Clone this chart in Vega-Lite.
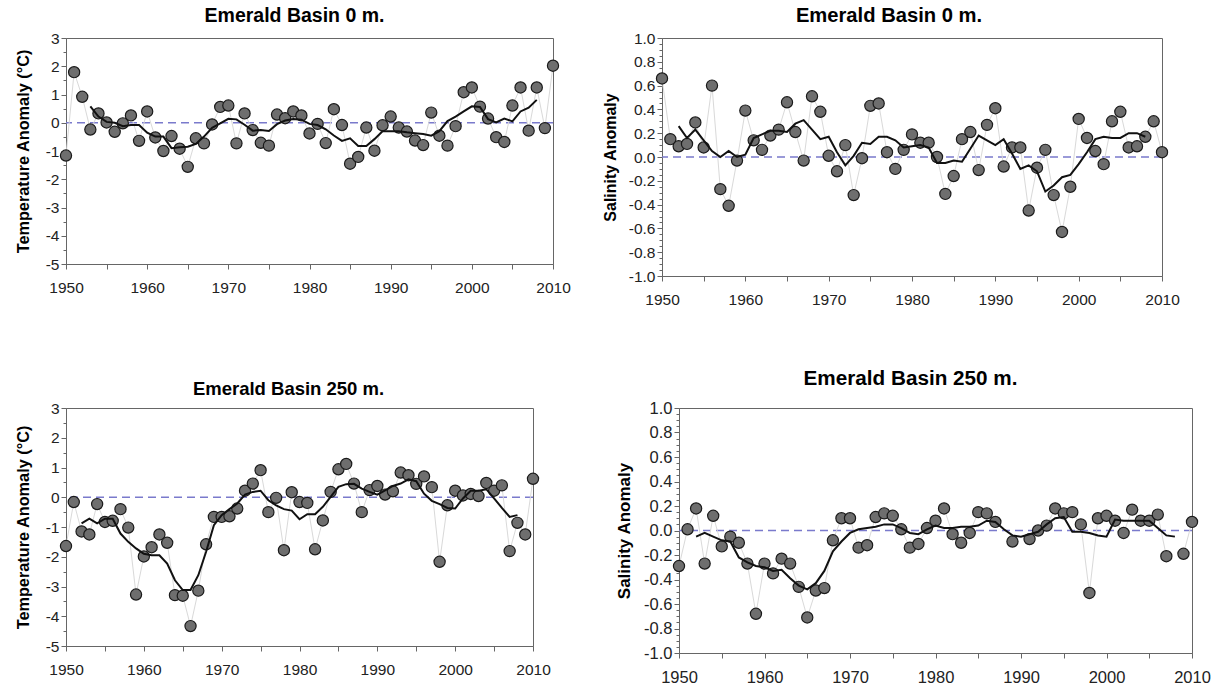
{
  "$schema": "https://vega.github.io/schema/vega-lite/v6.json",
  "padding": {"left": 14, "top": 5, "right": 0, "bottom": 0},
  "background": "white",
  "config": {
    "font": "Liberation Sans",
    "view": {"stroke": "#666", "strokeWidth": 1},
    "axis": {"grid": false, "domainColor": "#666", "tickColor": "#666", "labelColor": "#222", "labelFont": "Liberation Sans", "titleFont": "Liberation Sans", "titleColor": "#000", "titleFontWeight": "bold", "labelFlush": false, "labelOverlap": false},
    "title": {"font": "Liberation Sans", "fontWeight": "bold", "color": "#000", "anchor": "middle"}
  },
  "datasets": {
    "t0": [
      {"y":1950,"v":-1.16,"m":null},{"y":1951,"v":1.79,"m":null},{"y":1952,"v":0.92,"m":null},{"y":1953,"v":-0.24,"m":0.58},{"y":1954,"v":0.33,"m":0.22},
      {"y":1955,"v":0.01,"m":0.03},{"y":1956,"v":-0.32,"m":0.0},{"y":1957,"v":-0.02,"m":-0.12},{"y":1958,"v":0.26,"m":-0.08},{"y":1959,"v":-0.64,"m":-0.08},
      {"y":1960,"v":0.40,"m":-0.35},{"y":1961,"v":-0.52,"m":-0.49},{"y":1962,"v":-1.0,"m":-0.49},{"y":1963,"v":-0.47,"m":-0.9},{"y":1964,"v":-0.92,"m":-0.87},
      {"y":1965,"v":-1.56,"m":-0.85},{"y":1966,"v":-0.55,"m":-0.75},{"y":1967,"v":-0.73,"m":-0.49},{"y":1968,"v":-0.06,"m":-0.18},{"y":1969,"v":0.56,"m":-0.02},
      {"y":1970,"v":0.61,"m":0.14},{"y":1971,"v":-0.73,"m":0.12},{"y":1972,"v":0.33,"m":-0.07},{"y":1973,"v":-0.26,"m":-0.28},{"y":1974,"v":-0.71,"m":-0.26},
      {"y":1975,"v":-0.81,"m":-0.29},{"y":1976,"v":0.29,"m":-0.05},{"y":1977,"v":0.16,"m":0.08},{"y":1978,"v":0.40,"m":0.13},{"y":1979,"v":0.26,"m":0.11},
      {"y":1980,"v":-0.38,"m":-0.04},{"y":1981,"v":-0.04,"m":-0.08},{"y":1982,"v":-0.72,"m":-0.23},{"y":1983,"v":0.48,"m":-0.45},{"y":1984,"v":-0.08,"m":-0.64},
      {"y":1985,"v":-1.45,"m":-0.55},{"y":1986,"v":-1.21,"m":-0.82},{"y":1987,"v":-0.17,"m":-0.82},{"y":1988,"v":-0.99,"m":-0.58},{"y":1989,"v":-0.09,"m":-0.3},
      {"y":1990,"v":0.22,"m":-0.3},{"y":1991,"v":-0.17,"m":-0.3},{"y":1992,"v":-0.31,"m":-0.34},{"y":1993,"v":-0.63,"m":-0.37},{"y":1994,"v":-0.79,"m":-0.4},
      {"y":1995,"v":0.36,"m":-0.46},{"y":1996,"v":-0.46,"m":-0.3},{"y":1997,"v":-0.81,"m":0.06},{"y":1998,"v":-0.12,"m":0.22},{"y":1999,"v":1.08,"m":0.4},
      {"y":2000,"v":1.25,"m":0.58},{"y":2001,"v":0.57,"m":0.56},{"y":2002,"v":0.15,"m":0.13},{"y":2003,"v":-0.51,"m":0.01},{"y":2004,"v":-0.68,"m":0.15},
      {"y":2005,"v":0.61,"m":0.05},{"y":2006,"v":1.25,"m":0.4},{"y":2007,"v":-0.28,"m":0.53},{"y":2008,"v":1.25,"m":0.81},{"y":2009,"v":-0.19,"m":null},
      {"y":2010,"v":2.02,"m":null}
    ],
    "s0": [
      {"y":1950,"v":0.66,"m":null},{"y":1951,"v":0.15,"m":null},{"y":1952,"v":0.09,"m":0.26},{"y":1953,"v":0.11,"m":0.16},{"y":1954,"v":0.29,"m":0.23},
      {"y":1955,"v":0.08,"m":0.14},{"y":1956,"v":0.60,"m":0.05},{"y":1957,"v":-0.27,"m":0.0},{"y":1958,"v":-0.41,"m":0.05},{"y":1959,"v":-0.03,"m":0.0},
      {"y":1960,"v":0.39,"m":0.02},{"y":1961,"v":0.14,"m":0.16},{"y":1962,"v":0.06,"m":0.19},{"y":1963,"v":0.18,"m":0.22},{"y":1964,"v":0.23,"m":0.22},
      {"y":1965,"v":0.46,"m":0.21},{"y":1966,"v":0.21,"m":0.28},{"y":1967,"v":-0.03,"m":0.31},{"y":1968,"v":0.51,"m":0.23},{"y":1969,"v":0.38,"m":0.15},
      {"y":1970,"v":0.01,"m":0.17},{"y":1971,"v":-0.12,"m":0.04},{"y":1972,"v":0.10,"m":-0.07},{"y":1973,"v":-0.32,"m":0.01},{"y":1974,"v":-0.01,"m":0.12},
      {"y":1975,"v":0.43,"m":0.11},{"y":1976,"v":0.45,"m":0.17},{"y":1977,"v":0.04,"m":0.17},{"y":1978,"v":-0.10,"m":0.14},{"y":1979,"v":0.06,"m":0.08},
      {"y":1980,"v":0.19,"m":0.09},{"y":1981,"v":0.12,"m":0.10},{"y":1982,"v":0.12,"m":0.08},{"y":1983,"v":0.0,"m":-0.05},{"y":1984,"v":-0.31,"m":-0.05},
      {"y":1985,"v":-0.16,"m":-0.03},{"y":1986,"v":0.15,"m":-0.04},{"y":1987,"v":0.21,"m":0.07},{"y":1988,"v":-0.11,"m":0.18},{"y":1989,"v":0.27,"m":0.14},
      {"y":1990,"v":0.41,"m":0.10},{"y":1991,"v":-0.08,"m":0.15},{"y":1992,"v":0.08,"m":0.03},{"y":1993,"v":0.08,"m":-0.10},{"y":1994,"v":-0.45,"m":-0.07},
      {"y":1995,"v":-0.09,"m":-0.12},{"y":1996,"v":0.06,"m":-0.29},{"y":1997,"v":-0.32,"m":-0.24},{"y":1998,"v":-0.63,"m":-0.17},{"y":1999,"v":-0.25,"m":-0.15},
      {"y":2000,"v":0.32,"m":-0.06},{"y":2001,"v":0.16,"m":0.04},{"y":2002,"v":0.05,"m":0.15},{"y":2003,"v":-0.06,"m":0.17},{"y":2004,"v":0.30,"m":0.16},
      {"y":2005,"v":0.38,"m":0.16},{"y":2006,"v":0.08,"m":0.20},{"y":2007,"v":0.09,"m":0.20},{"y":2008,"v":0.17,"m":0.17},{"y":2009,"v":0.30,"m":null},
      {"y":2010,"v":0.04,"m":null}
    ],
    "t250": [
      {"y":1950,"v":-1.64,"m":null},{"y":1951,"v":-0.16,"m":null},{"y":1952,"v":-1.15,"m":-0.88},{"y":1953,"v":-1.25,"m":-0.72},{"y":1954,"v":-0.23,"m":-0.88},
      {"y":1955,"v":-0.83,"m":-0.72},{"y":1956,"v":-0.79,"m":-0.72},{"y":1957,"v":-0.40,"m":-1.22},{"y":1958,"v":-1.02,"m":-1.5},{"y":1959,"v":-3.27,"m":-1.72},
      {"y":1960,"v":-1.99,"m":-1.9},{"y":1961,"v":-1.68,"m":-1.95},{"y":1962,"v":-1.25,"m":-1.95},{"y":1963,"v":-1.53,"m":-2.23},{"y":1964,"v":-3.29,"m":-2.79},
      {"y":1965,"v":-3.31,"m":-3.12},{"y":1966,"v":-4.33,"m":-3.12},{"y":1967,"v":-3.14,"m":-2.62},{"y":1968,"v":-1.58,"m":-1.83},{"y":1969,"v":-0.66,"m":-0.94},
      {"y":1970,"v":-0.66,"m":-0.6},{"y":1971,"v":-0.64,"m":-0.4},{"y":1972,"v":-0.38,"m":-0.21},{"y":1973,"v":0.22,"m":0.09},{"y":1974,"v":0.46,"m":0.18},
      {"y":1975,"v":0.91,"m":0.22},{"y":1976,"v":-0.50,"m":-0.1},{"y":1977,"v":-0.02,"m":-0.27},{"y":1978,"v":-1.78,"m":-0.40},{"y":1979,"v":0.17,"m":-0.45},
      {"y":1980,"v":-0.16,"m":-0.74},{"y":1981,"v":-0.19,"m":-0.57},{"y":1982,"v":-1.75,"m":-0.57},{"y":1983,"v":-0.78,"m":-0.32},{"y":1984,"v":0.18,"m":0.01},
      {"y":1985,"v":0.94,"m":0.35},{"y":1986,"v":1.12,"m":0.44},{"y":1987,"v":0.46,"m":0.45},{"y":1988,"v":-0.50,"m":0.29},{"y":1989,"v":0.24,"m":0.18},
      {"y":1990,"v":0.38,"m":0.09},{"y":1991,"v":0.09,"m":0.23},{"y":1992,"v":0.20,"m":0.38},{"y":1993,"v":0.83,"m":0.46},{"y":1994,"v":0.74,"m":0.6},
      {"y":1995,"v":0.45,"m":0.54},{"y":1996,"v":0.70,"m":0.12},{"y":1997,"v":0.34,"m":-0.12},{"y":1998,"v":-2.17,"m":-0.23},{"y":1999,"v":-0.27,"m":-0.36},
      {"y":2000,"v":0.22,"m":-0.38},{"y":2001,"v":0.06,"m":-0.04},{"y":2002,"v":0.11,"m":0.22},{"y":2003,"v":0.04,"m":0.22},{"y":2004,"v":0.48,"m":0.27},
      {"y":2005,"v":0.22,"m":-0.04},{"y":2006,"v":0.40,"m":-0.36},{"y":2007,"v":-1.81,"m":-0.66},{"y":2008,"v":-0.86,"m":-0.6},{"y":2009,"v":-1.25,"m":null},
      {"y":2010,"v":0.62,"m":null}
    ],
    "s250": [
      {"y":1950,"v":-0.29,"m":null},{"y":1951,"v":0.01,"m":null},{"y":1952,"v":0.18,"m":-0.05},{"y":1953,"v":-0.27,"m":-0.02},{"y":1954,"v":0.12,"m":-0.05},
      {"y":1955,"v":-0.13,"m":-0.08},{"y":1956,"v":-0.05,"m":-0.09},{"y":1957,"v":-0.10,"m":-0.22},{"y":1958,"v":-0.27,"m":-0.26},{"y":1959,"v":-0.68,"m":-0.29},
      {"y":1960,"v":-0.27,"m":-0.30},{"y":1961,"v":-0.35,"m":-0.33},{"y":1962,"v":-0.23,"m":-0.32},{"y":1963,"v":-0.27,"m":-0.39},{"y":1964,"v":-0.46,"m":-0.45},
      {"y":1965,"v":-0.71,"m":-0.48},{"y":1966,"v":-0.49,"m":-0.43},{"y":1967,"v":-0.47,"m":-0.33},{"y":1968,"v":-0.08,"m":-0.17},{"y":1969,"v":0.10,"m":-0.09},
      {"y":1970,"v":0.10,"m":-0.02},{"y":1971,"v":-0.14,"m":0.01},{"y":1972,"v":-0.12,"m":0.02},{"y":1973,"v":0.11,"m":0.03},{"y":1974,"v":0.14,"m":0.05},
      {"y":1975,"v":0.12,"m":0.05},{"y":1976,"v":0.01,"m":0.02},{"y":1977,"v":-0.14,"m":-0.02},{"y":1978,"v":-0.11,"m":-0.03},{"y":1979,"v":0.02,"m":0.01},
      {"y":1980,"v":0.08,"m":0.04},{"y":1981,"v":0.18,"m":0.02},{"y":1982,"v":-0.03,"m":0.02},{"y":1983,"v":-0.10,"m":0.03},{"y":1984,"v":-0.02,"m":0.03},
      {"y":1985,"v":0.15,"m":0.04},{"y":1986,"v":0.14,"m":0.08},{"y":1987,"v":0.07,"m":0.07},{"y":1988,"v":null,"m":0.01},{"y":1989,"v":-0.09,"m":-0.04},
      {"y":1990,"v":null,"m":-0.05},{"y":1991,"v":-0.07,"m":-0.03},{"y":1992,"v":0.0,"m":-0.01},{"y":1993,"v":0.04,"m":0.05},{"y":1994,"v":0.18,"m":0.10},
      {"y":1995,"v":0.14,"m":0.11},{"y":1996,"v":0.15,"m":-0.01},{"y":1997,"v":0.05,"m":-0.01},{"y":1998,"v":-0.51,"m":-0.02},{"y":1999,"v":0.10,"m":-0.04},
      {"y":2000,"v":0.12,"m":-0.05},{"y":2001,"v":0.08,"m":0.09},{"y":2002,"v":-0.02,"m":0.08},{"y":2003,"v":0.17,"m":0.08},{"y":2004,"v":0.08,"m":0.08},
      {"y":2005,"v":0.08,"m":0.08},{"y":2006,"v":0.13,"m":0.02},{"y":2007,"v":-0.21,"m":-0.04},{"y":2008,"v":null,"m":-0.05},{"y":2009,"v":-0.19,"m":null},
      {"y":2010,"v":0.07,"m":null}
    ]
  },
  "vconcat": [
    {
      "hconcat": [
        {
          "width": 487, "height": 226,
          "title": {"text": "Emerald Basin 0 m.", "fontSize": 19.5, "dx": -15, "offset": 5},
          "data": {"name": "t0"},
          "layer": [
            {"data": {"values": [{}]}, "mark": {"type": "rule", "color": "#7a7acc", "strokeDash": [8, 5], "strokeWidth": 1.5},
             "encoding": {"y": {"datum": 0, "type": "quantitative", "scale": {"domain": [-5, 3], "nice": false},
                                "axis": {"values": [-5,-4.5,-4,-3.5,-3,-2.5,-2,-1.5,-1,-0.5,0,0.5,1,1.5,2,2.5,3], "labelExpr": "datum.value % 1 === 0 ? '' + datum.value : ''", "tickSize": {"condition": {"test": "datum.value % 1 === 0", "value": 5}, "value": 3}, "labelPadding": 2, "labelFontSize": 15.5, "title": "Temperature Anomaly (°C)", "titleFontSize": 16.3, "titlePadding": 14}}}},
            {"mark": {"type": "line", "color": "#d9d9d9", "strokeWidth": 1},
             "encoding": {"x": {"field": "y", "type": "quantitative", "scale": {"domain": [1950, 2010], "nice": false, "zero": false},
                                "axis": {"values": [1950,1955,1960,1965,1970,1975,1980,1985,1990,1995,2000,2005,2010], "labelExpr": "datum.value % 10 === 0 ? '' + datum.value : ''", "title": null, "tickSize": 5, "labelPadding": 11, "labelFontSize": 15.5}},
                          "y": {"field": "v", "type": "quantitative", "scale": {"domain": [-5, 3], "nice": false},
                                "axis": {"values": [-5,-4.5,-4,-3.5,-3,-2.5,-2,-1.5,-1,-0.5,0,0.5,1,1.5,2,2.5,3], "labelExpr": "datum.value % 1 === 0 ? '' + datum.value : ''", "tickSize": {"condition": {"test": "datum.value % 1 === 0", "value": 5}, "value": 3}, "labelPadding": 2, "labelFontSize": 15.5, "title": "Temperature Anomaly (°C)", "titleFontSize": 16.3, "titlePadding": 14}}}},
            {"mark": {"type": "point", "filled": true, "fill": "#6e6e6e", "stroke": "#1a1a1a", "strokeWidth": 1.2, "size": 125, "opacity": 1},
             "encoding": {"x": {"field": "y", "type": "quantitative", "scale": {"domain": [1950, 2010], "nice": false, "zero": false},
                                "axis": {"values": [1950,1955,1960,1965,1970,1975,1980,1985,1990,1995,2000,2005,2010], "labelExpr": "datum.value % 10 === 0 ? '' + datum.value : ''", "title": null, "tickSize": 5, "labelPadding": 11, "labelFontSize": 15.5}},
                          "y": {"field": "v", "type": "quantitative", "scale": {"domain": [-5, 3], "nice": false},
                                "axis": {"values": [-5,-4.5,-4,-3.5,-3,-2.5,-2,-1.5,-1,-0.5,0,0.5,1,1.5,2,2.5,3], "labelExpr": "datum.value % 1 === 0 ? '' + datum.value : ''", "tickSize": {"condition": {"test": "datum.value % 1 === 0", "value": 5}, "value": 3}, "labelPadding": 2, "labelFontSize": 15.5, "title": "Temperature Anomaly (°C)", "titleFontSize": 16.3, "titlePadding": 14}}}},
            {"mark": {"type": "line", "color": "#111", "strokeWidth": 2},
             "encoding": {"x": {"field": "y", "type": "quantitative", "scale": {"domain": [1950, 2010], "nice": false, "zero": false},
                                "axis": {"values": [1950,1955,1960,1965,1970,1975,1980,1985,1990,1995,2000,2005,2010], "labelExpr": "datum.value % 10 === 0 ? '' + datum.value : ''", "title": null, "tickSize": 5, "labelPadding": 11, "labelFontSize": 15.5}},
                          "y": {"field": "m", "type": "quantitative", "scale": {"domain": [-5, 3], "nice": false},
                                "axis": {"values": [-5,-4.5,-4,-3.5,-3,-2.5,-2,-1.5,-1,-0.5,0,0.5,1,1.5,2,2.5,3], "labelExpr": "datum.value % 1 === 0 ? '' + datum.value : ''", "tickSize": {"condition": {"test": "datum.value % 1 === 0", "value": 5}, "value": 3}, "labelPadding": 2, "labelFontSize": 15.5, "title": "Temperature Anomaly (°C)", "titleFontSize": 16.3, "titlePadding": 14}}}}
          ]
        },
        {
          "width": 500, "height": 238,
          "title": {"text": "Emerald Basin 0 m.", "fontSize": 20.2, "dx": -23, "offset": 5},
          "data": {"name": "s0"},
          "layer": [
            {"data": {"values": [{}]}, "mark": {"type": "rule", "color": "#7a7acc", "strokeDash": [8, 5], "strokeWidth": 1.5},
             "encoding": {"y": {"datum": 0, "type": "quantitative", "scale": {"domain": [-1, 1], "nice": false},
                                "axis": {"values": [-1,-0.95,-0.9,-0.85,-0.8,-0.75,-0.7,-0.65,-0.6,-0.55,-0.5,-0.45,-0.4,-0.35,-0.3,-0.25,-0.2,-0.15,-0.1,-0.05,0,0.05,0.1,0.15,0.2,0.25,0.3,0.35,0.4,0.45,0.5,0.55,0.6,0.65,0.7,0.75,0.8,0.85,0.9,0.95,1], "labelExpr": "abs(datum.value*5 - round(datum.value*5)) < 0.001 ? replace(format(datum.value, '.1f'), '\u2212', '-') : ''", "tickSize": {"condition": {"test": "abs(datum.value*5 - round(datum.value*5)) < 0.001", "value": 5}, "value": 3}, "labelPadding": 2, "labelFontSize": 15.5, "title": "Salinity Anomaly", "titleFontSize": 16, "titlePadding": 10}}}},
            {"mark": {"type": "line", "color": "#d9d9d9", "strokeWidth": 1},
             "encoding": {"x": {"field": "y", "type": "quantitative", "scale": {"domain": [1950, 2010], "nice": false, "zero": false},
                                "axis": {"values": [1950,1955,1960,1965,1970,1975,1980,1985,1990,1995,2000,2005,2010], "labelExpr": "datum.value % 10 === 0 ? '' + datum.value : ''", "title": null, "tickSize": 5, "labelPadding": 11, "labelFontSize": 15.5}},
                          "y": {"field": "v", "type": "quantitative", "scale": {"domain": [-1, 1], "nice": false},
                                "axis": {"values": [-1,-0.95,-0.9,-0.85,-0.8,-0.75,-0.7,-0.65,-0.6,-0.55,-0.5,-0.45,-0.4,-0.35,-0.3,-0.25,-0.2,-0.15,-0.1,-0.05,0,0.05,0.1,0.15,0.2,0.25,0.3,0.35,0.4,0.45,0.5,0.55,0.6,0.65,0.7,0.75,0.8,0.85,0.9,0.95,1], "labelExpr": "abs(datum.value*5 - round(datum.value*5)) < 0.001 ? replace(format(datum.value, '.1f'), '\u2212', '-') : ''", "tickSize": {"condition": {"test": "abs(datum.value*5 - round(datum.value*5)) < 0.001", "value": 5}, "value": 3}, "labelPadding": 2, "labelFontSize": 15.5, "title": "Salinity Anomaly", "titleFontSize": 16, "titlePadding": 10}}}},
            {"mark": {"type": "point", "filled": true, "fill": "#6e6e6e", "stroke": "#1a1a1a", "strokeWidth": 1.2, "size": 125, "opacity": 1},
             "encoding": {"x": {"field": "y", "type": "quantitative", "scale": {"domain": [1950, 2010], "nice": false, "zero": false},
                                "axis": {"values": [1950,1955,1960,1965,1970,1975,1980,1985,1990,1995,2000,2005,2010], "labelExpr": "datum.value % 10 === 0 ? '' + datum.value : ''", "title": null, "tickSize": 5, "labelPadding": 11, "labelFontSize": 15.5}},
                          "y": {"field": "v", "type": "quantitative", "scale": {"domain": [-1, 1], "nice": false},
                                "axis": {"values": [-1,-0.95,-0.9,-0.85,-0.8,-0.75,-0.7,-0.65,-0.6,-0.55,-0.5,-0.45,-0.4,-0.35,-0.3,-0.25,-0.2,-0.15,-0.1,-0.05,0,0.05,0.1,0.15,0.2,0.25,0.3,0.35,0.4,0.45,0.5,0.55,0.6,0.65,0.7,0.75,0.8,0.85,0.9,0.95,1], "labelExpr": "abs(datum.value*5 - round(datum.value*5)) < 0.001 ? replace(format(datum.value, '.1f'), '\u2212', '-') : ''", "tickSize": {"condition": {"test": "abs(datum.value*5 - round(datum.value*5)) < 0.001", "value": 5}, "value": 3}, "labelPadding": 2, "labelFontSize": 15.5, "title": "Salinity Anomaly", "titleFontSize": 16, "titlePadding": 10}}}},
            {"mark": {"type": "line", "color": "#111", "strokeWidth": 2},
             "encoding": {"x": {"field": "y", "type": "quantitative", "scale": {"domain": [1950, 2010], "nice": false, "zero": false},
                                "axis": {"values": [1950,1955,1960,1965,1970,1975,1980,1985,1990,1995,2000,2005,2010], "labelExpr": "datum.value % 10 === 0 ? '' + datum.value : ''", "title": null, "tickSize": 5, "labelPadding": 11, "labelFontSize": 15.5}},
                          "y": {"field": "m", "type": "quantitative", "scale": {"domain": [-1, 1], "nice": false},
                                "axis": {"values": [-1,-0.95,-0.9,-0.85,-0.8,-0.75,-0.7,-0.65,-0.6,-0.55,-0.5,-0.45,-0.4,-0.35,-0.3,-0.25,-0.2,-0.15,-0.1,-0.05,0,0.05,0.1,0.15,0.2,0.25,0.3,0.35,0.4,0.45,0.5,0.55,0.6,0.65,0.7,0.75,0.8,0.85,0.9,0.95,1], "labelExpr": "abs(datum.value*5 - round(datum.value*5)) < 0.001 ? replace(format(datum.value, '.1f'), '\u2212', '-') : ''", "tickSize": {"condition": {"test": "abs(datum.value*5 - round(datum.value*5)) < 0.001", "value": 5}, "value": 3}, "labelPadding": 2, "labelFontSize": 15.5, "title": "Salinity Anomaly", "titleFontSize": 16, "titlePadding": 10}}}}
          ]
        }
      ],
      "spacing": 30
    },
    {
      "hconcat": [
        {
          "width": 467, "height": 238,
          "title": {"text": "Emerald Basin 250 m.", "fontSize": 18.5, "dx": -11, "offset": 3},
          "data": {"name": "t250"},
          "layer": [
            {"data": {"values": [{}]}, "mark": {"type": "rule", "color": "#7a7acc", "strokeDash": [8, 5], "strokeWidth": 1.5},
             "encoding": {"y": {"datum": 0, "type": "quantitative", "scale": {"domain": [-5, 3], "nice": false},
                                "axis": {"values": [-5,-4.5,-4,-3.5,-3,-2.5,-2,-1.5,-1,-0.5,0,0.5,1,1.5,2,2.5,3], "labelExpr": "datum.value % 1 === 0 ? '' + datum.value : ''", "tickSize": {"condition": {"test": "datum.value % 1 === 0", "value": 5}, "value": 3}, "labelPadding": 2, "labelFontSize": 15.5, "title": "Temperature Anomaly (°C)", "titleFontSize": 16.3, "titlePadding": 14}}}},
            {"mark": {"type": "line", "color": "#d9d9d9", "strokeWidth": 1},
             "encoding": {"x": {"field": "y", "type": "quantitative", "scale": {"domain": [1950, 2010], "nice": false, "zero": false},
                                "axis": {"values": [1950,1955,1960,1965,1970,1975,1980,1985,1990,1995,2000,2005,2010], "labelExpr": "datum.value % 10 === 0 ? '' + datum.value : ''", "title": null, "tickSize": 5, "labelPadding": 11, "labelFontSize": 15.5}},
                          "y": {"field": "v", "type": "quantitative", "scale": {"domain": [-5, 3], "nice": false},
                                "axis": {"values": [-5,-4.5,-4,-3.5,-3,-2.5,-2,-1.5,-1,-0.5,0,0.5,1,1.5,2,2.5,3], "labelExpr": "datum.value % 1 === 0 ? '' + datum.value : ''", "tickSize": {"condition": {"test": "datum.value % 1 === 0", "value": 5}, "value": 3}, "labelPadding": 2, "labelFontSize": 15.5, "title": "Temperature Anomaly (°C)", "titleFontSize": 16.3, "titlePadding": 14}}}},
            {"mark": {"type": "point", "filled": true, "fill": "#6e6e6e", "stroke": "#1a1a1a", "strokeWidth": 1.2, "size": 125, "opacity": 1},
             "encoding": {"x": {"field": "y", "type": "quantitative", "scale": {"domain": [1950, 2010], "nice": false, "zero": false},
                                "axis": {"values": [1950,1955,1960,1965,1970,1975,1980,1985,1990,1995,2000,2005,2010], "labelExpr": "datum.value % 10 === 0 ? '' + datum.value : ''", "title": null, "tickSize": 5, "labelPadding": 11, "labelFontSize": 15.5}},
                          "y": {"field": "v", "type": "quantitative", "scale": {"domain": [-5, 3], "nice": false},
                                "axis": {"values": [-5,-4.5,-4,-3.5,-3,-2.5,-2,-1.5,-1,-0.5,0,0.5,1,1.5,2,2.5,3], "labelExpr": "datum.value % 1 === 0 ? '' + datum.value : ''", "tickSize": {"condition": {"test": "datum.value % 1 === 0", "value": 5}, "value": 3}, "labelPadding": 2, "labelFontSize": 15.5, "title": "Temperature Anomaly (°C)", "titleFontSize": 16.3, "titlePadding": 14}}}},
            {"mark": {"type": "line", "color": "#111", "strokeWidth": 2},
             "encoding": {"x": {"field": "y", "type": "quantitative", "scale": {"domain": [1950, 2010], "nice": false, "zero": false},
                                "axis": {"values": [1950,1955,1960,1965,1970,1975,1980,1985,1990,1995,2000,2005,2010], "labelExpr": "datum.value % 10 === 0 ? '' + datum.value : ''", "title": null, "tickSize": 5, "labelPadding": 11, "labelFontSize": 15.5}},
                          "y": {"field": "m", "type": "quantitative", "scale": {"domain": [-5, 3], "nice": false},
                                "axis": {"values": [-5,-4.5,-4,-3.5,-3,-2.5,-2,-1.5,-1,-0.5,0,0.5,1,1.5,2,2.5,3], "labelExpr": "datum.value % 1 === 0 ? '' + datum.value : ''", "tickSize": {"condition": {"test": "datum.value % 1 === 0", "value": 5}, "value": 3}, "labelPadding": 2, "labelFontSize": 15.5, "title": "Temperature Anomaly (°C)", "titleFontSize": 16.3, "titlePadding": 14}}}}
          ]
        },
        {
          "width": 513, "height": 245,
          "title": {"text": "Emerald Basin 250 m.", "fontSize": 20.7, "dx": -25, "offset": 10},
          "data": {"name": "s250"},
          "layer": [
            {"data": {"values": [{}]}, "mark": {"type": "rule", "color": "#7a7acc", "strokeDash": [8, 5], "strokeWidth": 1.5},
             "encoding": {"y": {"datum": 0, "type": "quantitative", "scale": {"domain": [-1, 1], "nice": false},
                                "axis": {"values": [-1,-0.95,-0.9,-0.85,-0.8,-0.75,-0.7,-0.65,-0.6,-0.55,-0.5,-0.45,-0.4,-0.35,-0.3,-0.25,-0.2,-0.15,-0.1,-0.05,0,0.05,0.1,0.15,0.2,0.25,0.3,0.35,0.4,0.45,0.5,0.55,0.6,0.65,0.7,0.75,0.8,0.85,0.9,0.95,1], "labelExpr": "abs(datum.value*5 - round(datum.value*5)) < 0.001 ? replace(format(datum.value, '.1f'), '\u2212', '-') : ''", "tickSize": {"condition": {"test": "abs(datum.value*5 - round(datum.value*5)) < 0.001", "value": 5}, "value": 3}, "labelPadding": 2, "labelFontSize": 16.5, "title": "Salinity Anomaly", "titleFontSize": 17, "titlePadding": 10}}}},
            {"mark": {"type": "line", "color": "#d9d9d9", "strokeWidth": 1},
             "encoding": {"x": {"field": "y", "type": "quantitative", "scale": {"domain": [1950, 2010], "nice": false, "zero": false},
                                "axis": {"values": [1950,1955,1960,1965,1970,1975,1980,1985,1990,1995,2000,2005,2010], "labelExpr": "datum.value % 10 === 0 ? '' + datum.value : ''", "title": null, "tickSize": 5, "labelPadding": 11, "labelFontSize": 16.5}},
                          "y": {"field": "v", "type": "quantitative", "scale": {"domain": [-1, 1], "nice": false},
                                "axis": {"values": [-1,-0.95,-0.9,-0.85,-0.8,-0.75,-0.7,-0.65,-0.6,-0.55,-0.5,-0.45,-0.4,-0.35,-0.3,-0.25,-0.2,-0.15,-0.1,-0.05,0,0.05,0.1,0.15,0.2,0.25,0.3,0.35,0.4,0.45,0.5,0.55,0.6,0.65,0.7,0.75,0.8,0.85,0.9,0.95,1], "labelExpr": "abs(datum.value*5 - round(datum.value*5)) < 0.001 ? replace(format(datum.value, '.1f'), '\u2212', '-') : ''", "tickSize": {"condition": {"test": "abs(datum.value*5 - round(datum.value*5)) < 0.001", "value": 5}, "value": 3}, "labelPadding": 2, "labelFontSize": 16.5, "title": "Salinity Anomaly", "titleFontSize": 17, "titlePadding": 10}}}},
            {"mark": {"type": "point", "filled": true, "fill": "#6e6e6e", "stroke": "#1a1a1a", "strokeWidth": 1.2, "size": 125, "opacity": 1},
             "encoding": {"x": {"field": "y", "type": "quantitative", "scale": {"domain": [1950, 2010], "nice": false, "zero": false},
                                "axis": {"values": [1950,1955,1960,1965,1970,1975,1980,1985,1990,1995,2000,2005,2010], "labelExpr": "datum.value % 10 === 0 ? '' + datum.value : ''", "title": null, "tickSize": 5, "labelPadding": 11, "labelFontSize": 16.5}},
                          "y": {"field": "v", "type": "quantitative", "scale": {"domain": [-1, 1], "nice": false},
                                "axis": {"values": [-1,-0.95,-0.9,-0.85,-0.8,-0.75,-0.7,-0.65,-0.6,-0.55,-0.5,-0.45,-0.4,-0.35,-0.3,-0.25,-0.2,-0.15,-0.1,-0.05,0,0.05,0.1,0.15,0.2,0.25,0.3,0.35,0.4,0.45,0.5,0.55,0.6,0.65,0.7,0.75,0.8,0.85,0.9,0.95,1], "labelExpr": "abs(datum.value*5 - round(datum.value*5)) < 0.001 ? replace(format(datum.value, '.1f'), '\u2212', '-') : ''", "tickSize": {"condition": {"test": "abs(datum.value*5 - round(datum.value*5)) < 0.001", "value": 5}, "value": 3}, "labelPadding": 2, "labelFontSize": 16.5, "title": "Salinity Anomaly", "titleFontSize": 17, "titlePadding": 10}}}},
            {"mark": {"type": "line", "color": "#111", "strokeWidth": 2},
             "encoding": {"x": {"field": "y", "type": "quantitative", "scale": {"domain": [1950, 2010], "nice": false, "zero": false},
                                "axis": {"values": [1950,1955,1960,1965,1970,1975,1980,1985,1990,1995,2000,2005,2010], "labelExpr": "datum.value % 10 === 0 ? '' + datum.value : ''", "title": null, "tickSize": 5, "labelPadding": 11, "labelFontSize": 16.5}},
                          "y": {"field": "m", "type": "quantitative", "scale": {"domain": [-1, 1], "nice": false},
                                "axis": {"values": [-1,-0.95,-0.9,-0.85,-0.8,-0.75,-0.7,-0.65,-0.6,-0.55,-0.5,-0.45,-0.4,-0.35,-0.3,-0.25,-0.2,-0.15,-0.1,-0.05,0,0.05,0.1,0.15,0.2,0.25,0.3,0.35,0.4,0.45,0.5,0.55,0.6,0.65,0.7,0.75,0.8,0.85,0.9,0.95,1], "labelExpr": "abs(datum.value*5 - round(datum.value*5)) < 0.001 ? replace(format(datum.value, '.1f'), '\u2212', '-') : ''", "tickSize": {"condition": {"test": "abs(datum.value*5 - round(datum.value*5)) < 0.001", "value": 5}, "value": 3}, "labelPadding": 2, "labelFontSize": 16.5, "title": "Salinity Anomaly", "titleFontSize": 17, "titlePadding": 10}}}}
          ]
        }
      ],
      "spacing": 64
    }
  ],
  "spacing": 59
}
